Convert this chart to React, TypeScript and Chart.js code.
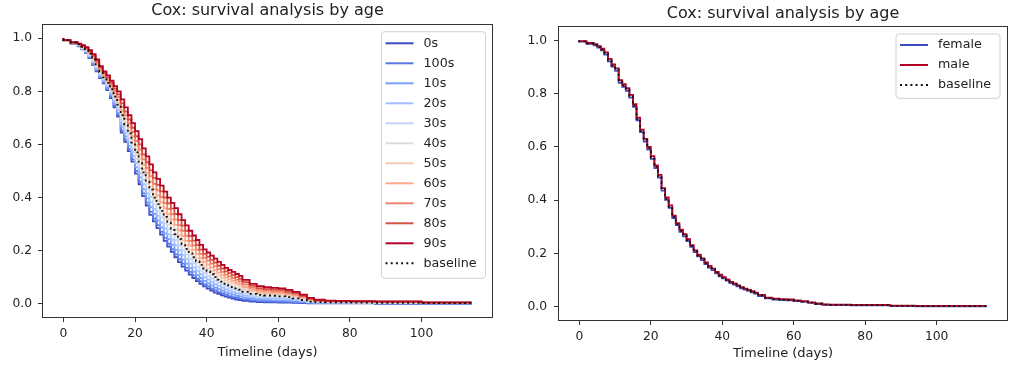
import React, { useEffect, useRef } from 'react';
import { Chart, registerables } from 'chart.js';

Chart.register(...registerables);

// ---------- data ----------
const timeline = [0, 2, 4, 5, 6, 7, 8, 9, 10, 11, 12, 13, 14, 15, 16, 17, 18, 19, 20, 21, 22, 23, 24, 25, 26, 27, 28, 29, 30, 31, 32, 33, 34, 35, 36, 37, 38, 39, 40, 41, 42, 43, 44, 45, 46, 47, 48, 49, 50, 52, 54, 56, 58, 60, 62, 64, 66, 68, 70, 73, 76, 80, 87, 94, 100, 108, 114];

const xTicks = [0, 20, 40, 60, 80, 100];
const yTicks = [0, 0.2, 0.4, 0.6, 0.8, 1.0];

const ageLabels = ['0s', '100s', '10s', '20s', '30s', '40s', '50s', '60s', '70s', '80s', '90s'];
const ageColors = ['#3b4cc0', '#5977e3', '#7b9ff9', '#9ebeff', '#c0d4f5', '#dddcdc', '#f2cbb7', '#f7ac8e', '#ee8468', '#d65244', '#b40426'];

const age0s = [1, .99, .98, .97, .958, .945, .925, .9, .875, .85, .83, .805, .775, .74, .705, .645, .61, .575, .535, .49, .45, .405, .37, .335, .31, .285, .26, .237, .215, .195, .175, .157, .14, .125, .11, .097, .085, .075, .065, .057, .049, .042, .037, .032, .027, .023, .019, .016, .014, .011, .008, .006, .005, .005, .004, .004, .003, .002, .001, .001, .001, .001, .001, 0, 0, 0, 0];
const age100s = [1, .99, .98, .971, .959, .946, .927, .902, .878, .853, .833, .808, .779, .745, .711, .653, .618, .583, .544, .5, .46, .416, .381, .346, .321, .296, .271, .248, .226, .206, .186, .168, .151, .135, .12, .107, .094, .084, .073, .065, .057, .05, .044, .039, .033, .029, .025, .022, .019, .016, .012, .01, .008, .008, .007, .007, .006, .004, .002, .002, .002, .002, .002, .001, .001, 0, 0];
const age10s = [1, .99, .981, .972, .96, .948, .93, .906, .882, .857, .837, .813, .785, .752, .719, .664, .63, .595, .557, .514, .476, .432, .398, .364, .338, .313, .288, .265, .243, .223, .203, .184, .166, .151, .135, .121, .108, .097, .086, .077, .069, .061, .055, .049, .043, .039, .034, .03, .028, .023, .018, .015, .014, .013, .012, .011, .009, .007, .004, .003, .003, .003, .002, .001, .001, .001, .001];
const age20s = [1, .991, .981, .973, .962, .951, .933, .91, .886, .861, .841, .819, .791, .76, .729, .676, .643, .609, .571, .53, .493, .45, .416, .383, .356, .331, .306, .283, .261, .241, .221, .202, .184, .168, .151, .137, .124, .112, .1, .091, .082, .074, .067, .061, .054, .049, .044, .04, .037, .031, .025, .021, .019, .019, .018, .016, .014, .01, .006, .005, .004, .004, .003, .002, .002, .001, .001];
const age30s = [1, .991, .982, .974, .964, .953, .936, .914, .891, .866, .846, .824, .798, .768, .738, .689, .656, .622, .586, .546, .51, .468, .435, .402, .375, .35, .325, .302, .28, .26, .24, .22, .201, .185, .168, .153, .139, .126, .114, .105, .095, .087, .079, .072, .065, .059, .054, .05, .046, .039, .031, .027, .025, .024, .023, .021, .018, .013, .008, .006, .005, .005, .004, .003, .003, .002, .002];
const age40s = [1, .991, .982, .975, .965, .955, .939, .918, .895, .87, .85, .83, .804, .776, .748, .701, .669, .636, .6, .562, .527, .486, .453, .421, .393, .368, .343, .32, .298, .278, .258, .238, .219, .202, .184, .169, .155, .141, .128, .118, .108, .1, .091, .083, .076, .07, .064, .059, .055, .047, .038, .033, .031, .03, .028, .026, .022, .016, .01, .007, .006, .006, .005, .004, .004, .002, .002];
const age50s = [1, .992, .983, .976, .967, .957, .942, .922, .9, .875, .855, .836, .811, .785, .758, .715, .683, .651, .616, .58, .545, .506, .474, .441, .414, .389, .364, .341, .319, .299, .279, .258, .238, .22, .202, .187, .172, .157, .143, .133, .123, .114, .105, .096, .088, .081, .076, .07, .065, .055, .046, .04, .037, .036, .034, .031, .027, .02, .013, .009, .007, .007, .006, .005, .005, .003, .003];
const age60s = [1, .992, .983, .977, .969, .96, .945, .926, .905, .88, .86, .841, .818, .793, .768, .728, .696, .664, .631, .596, .562, .524, .492, .46, .432, .407, .382, .359, .337, .317, .297, .276, .256, .237, .219, .203, .187, .172, .157, .147, .136, .126, .117, .107, .098, .092, .086, .079, .074, .063, .052, .046, .043, .041, .04, .036, .031, .023, .015, .01, .008, .008, .007, .006, .006, .003, .003];
const age70s = [1, .992, .984, .978, .97, .962, .948, .931, .91, .885, .865, .847, .825, .802, .778, .741, .71, .679, .647, .613, .581, .544, .512, .481, .452, .427, .402, .379, .357, .337, .317, .296, .275, .256, .237, .22, .204, .188, .173, .162, .151, .141, .13, .12, .11, .103, .097, .09, .084, .072, .06, .052, .049, .047, .046, .041, .035, .027, .017, .012, .009, .009, .008, .007, .007, .004, .004];
const age80s = [1, .993, .984, .979, .972, .964, .951, .935, .915, .89, .87, .853, .832, .81, .789, .755, .724, .694, .663, .631, .6, .563, .533, .502, .473, .448, .423, .4, .378, .358, .338, .315, .294, .275, .255, .238, .221, .204, .188, .177, .165, .155, .143, .132, .122, .115, .108, .1, .094, .081, .067, .059, .055, .053, .052, .046, .04, .03, .019, .013, .011, .01, .009, .008, .008, .004, .004];
const age90s = [1, .993, .985, .98, .974, .967, .955, .94, .92, .895, .875, .86, .84, .82, .8, .77, .74, .71, .68, .65, .62, .585, .555, .525, .495, .47, .445, .422, .4, .38, .36, .337, .315, .295, .275, .257, .24, .222, .205, .193, .181, .17, .158, .146, .135, .127, .12, .112, .105, .09, .075, .066, .062, .06, .058, .052, .045, .034, .022, .015, .012, .011, .01, .009, .009, .005, .005];
const ageSeries = [age0s, age100s, age10s, age20s, age30s, age40s, age50s, age60s, age70s, age80s, age90s];

const baselineAge = [1, .993, .984, .977, .968, .958, .942, .92, .898, .873, .853, .832, .808, .78, .75, .71, .675, .642, .607, .57, .535, .495, .46, .43, .4, .375, .35, .327, .305, .283, .262, .243, .225, .207, .19, .175, .16, .146, .133, .122, .111, .1, .091, .083, .075, .069, .063, .058, .053, .045, .037, .033, .031, .03, .028, .025, .02, .014, .008, .006, .005, .005, .004, .003, .003, .002, .002];

const sexLabels = ['female', 'male'];
const sexColors = ['#3b4cc0', '#b40426'];
const female = [1, .995, .987, .981, .973, .962, .946, .921, .901, .885, .84, .825, .81, .785, .75, .7, .655, .62, .59, .555, .52, .485, .436, .401, .371, .333, .306, .281, .264, .246, .225, .205, .189, .175, .16, .147, .137, .125, .114, .106, .098, .089, .083, .076, .069, .064, .059, .054, .049, .04, .031, .027, .025, .024, .021, .018, .014, .01, .007, .006, .006, .005, .005, .002, .001, .001, .001];
const male = [1, .997, .99, .986, .978, .969, .955, .93, .91, .895, .85, .835, .82, .795, .76, .71, .665, .63, .6, .565, .53, .495, .445, .41, .38, .342, .314, .289, .272, .254, .231, .211, .195, .181, .166, .153, .143, .131, .12, .111, .102, .093, .087, .08, .073, .068, .063, .058, .053, .044, .034, .03, .028, .027, .024, .021, .016, .012, .009, .008, .008, .007, .007, .004, .003, .003, .003];
const sexSeries = [female, male];
const baselineSex = [1, .996, .988, .983, .975, .965, .95, .925, .905, .89, .845, .83, .815, .79, .755, .705, .66, .625, .595, .56, .525, .49, .44, .405, .375, .337, .31, .285, .268, .25, .228, .208, .192, .178, .163, .15, .14, .128, .117, .108, .1, .091, .085, .078, .071, .066, .061, .056, .051, .042, .032, .028, .026, .025, .022, .019, .015, .011, .008, .007, .007, .006, .006, .003, .002, .002, .002];

const baselineLabel = 'baseline';
const titleText = 'Cox: survival analysis by age';
const xLabelText = 'Timeline (days)';

// ---------- styling ----------
const FONT = '"DejaVu Sans", "Liberation Sans", sans-serif';
const TEXT = '#222222';
const X_MIN = -5.7;
const X_MAX = 119.7;
const Y_MIN = -0.05;
const Y_MAX = 1.05;
const DOT = [2, 3.2];

const frameLegendPlugin = {
  id: 'frameLegend',
  afterDraw(chart: any, _args: any, opts: any) {
    const { ctx, chartArea: a } = chart;
    ctx.save();
    ctx.strokeStyle = '#333333';
    ctx.lineWidth = 1;
    ctx.setLineDash([]);
    const l = Math.round(a.left) - 0.5;
    const t = Math.round(a.top) - 0.5;
    const r = Math.round(a.right) + 0.5;
    const b = Math.round(a.bottom) + 0.5;
    ctx.strokeRect(l, t, r - l, b - t);

    const items = opts.items as any[];
    const n = items.length;
    const bx = a.right - opts.marginRight - opts.width;
    const by = a.top + opts.marginTop;
    const bh = opts.firstOffset + (n - 1) * opts.row + opts.lastPad;
    const bw = opts.width;
    const rad = 3;
    ctx.beginPath();
    ctx.moveTo(bx + rad, by);
    ctx.lineTo(bx + bw - rad, by);
    ctx.arcTo(bx + bw, by, bx + bw, by + rad, rad);
    ctx.lineTo(bx + bw, by + bh - rad);
    ctx.arcTo(bx + bw, by + bh, bx + bw - rad, by + bh, rad);
    ctx.lineTo(bx + rad, by + bh);
    ctx.arcTo(bx, by + bh, bx, by + bh - rad, rad);
    ctx.lineTo(bx, by + rad);
    ctx.arcTo(bx, by, bx + rad, by, rad);
    ctx.closePath();
    ctx.fillStyle = 'rgba(255,255,255,0.8)';
    ctx.fill();
    ctx.strokeStyle = '#d0d0d0';
    ctx.lineWidth = 1;
    ctx.stroke();

    items.forEach((it, i) => {
      const cy = by + opts.firstOffset + i * opts.row;
      ctx.beginPath();
      ctx.setLineDash(it.dash || []);
      ctx.strokeStyle = it.color;
      ctx.lineWidth = 2;
      ctx.lineCap = 'butt';
      ctx.moveTo(bx + 4, cy);
      ctx.lineTo(bx + 32, cy);
      ctx.stroke();
      ctx.setLineDash([]);
      ctx.fillStyle = TEXT;
      ctx.font = `12.7px ${FONT}`;
      ctx.textBaseline = 'middle';
      ctx.textAlign = 'left';
      ctx.fillText(it.label, bx + 42, cy);
    });
    ctx.restore();
  },
};

function toPoints(values: number[]) {
  return timeline.map((t, j) => ({ x: t, y: values[j] }));
}

function makeConfig(p: any, labels: string[], colors: string[], series: number[][], baseline: number[]) {
  const datasets: any[] = series.map((vals, i) => ({
    label: labels[i],
    data: toPoints(vals),
    borderColor: colors[i],
    backgroundColor: colors[i],
    borderWidth: 1.8,
    stepped: 'after',
    pointRadius: 0,
    fill: false,
    order: series.length - i,
  }));
  datasets.push({
    label: baselineLabel,
    data: toPoints(baseline),
    borderColor: '#111111',
    backgroundColor: '#111111',
    borderWidth: 1.8,
    borderDash: DOT,
    stepped: 'after',
    pointRadius: 0,
    fill: false,
    order: 0,
  });
  const legendItems: any[] = labels.map((lab, i) => ({ label: lab, color: colors[i] }));
  legendItems.push({ label: baselineLabel, color: '#111111', dash: DOT });

  return {
    type: 'line',
    data: { datasets },
    plugins: [frameLegendPlugin],
    options: {
      responsive: false,
      animation: false,
      events: [],
      layout: { padding: { left: 0, right: p.padRight, top: 0, bottom: 0 } },
      plugins: {
        legend: { display: false },
        tooltip: { enabled: false },
        title: {
          display: true,
          fullSize: false,
          text: titleText,
          color: TEXT,
          font: { family: FONT, size: 16, weight: 'normal', lineHeight: 1.2 },
          padding: { top: p.titleTop, bottom: p.titleBottom },
        },
        frameLegend: {
          items: legendItems,
          width: 104,
          marginRight: p.legendRight,
          marginTop: p.legendTop,
          firstOffset: p.legendFirst,
          row: 20,
          lastPad: p.legendLast,
        },
      },
      scales: {
        x: {
          type: 'linear',
          min: X_MIN,
          max: X_MAX,
          afterFit: (s: any) => { s.height = p.xAxisHeight; },
          afterBuildTicks: (s: any) => { s.ticks = xTicks.map((v) => ({ value: v })); },
          ticks: {
            color: TEXT,
            font: { family: FONT, size: 12.3 },
            padding: p.xTickPad,
            autoSkip: false,
            maxRotation: 0,
            callback: (v: any) => String(v),
          },
          grid: { drawOnChartArea: false, drawTicks: true, tickLength: 5, color: '#333333' },
          border: { display: false },
          title: {
            display: true,
            text: xLabelText,
            color: TEXT,
            font: { family: FONT, size: 13, lineHeight: 1.2 },
            padding: { top: 0, bottom: p.xTitleBottom },
          },
        },
        y: {
          type: 'linear',
          min: Y_MIN,
          max: Y_MAX,
          afterFit: (s: any) => { s.width = p.yAxisWidth; },
          afterBuildTicks: (s: any) => { s.ticks = yTicks.map((v) => ({ value: v })); },
          ticks: {
            color: TEXT,
            font: { family: FONT, size: 12.3 },
            padding: p.yTickPad,
            autoSkip: false,
            callback: (v: any) => Number(v).toFixed(1),
          },
          grid: { drawOnChartArea: false, drawTicks: true, tickLength: 5, color: '#333333' },
          border: { display: false },
        },
      },
    },
  };
}

function ChartPanel({ config, left }: { config: any; left: number }) {
  const ref = useRef<HTMLCanvasElement>(null);
  useEffect(() => {
    const chart = new Chart(ref.current as HTMLCanvasElement, config);
    return () => chart.destroy();
  }, []);
  return (
    <canvas
      ref={ref}
      width={512}
      height={373}
      style={{ position: 'absolute', left, top: 0, width: 512, height: 373 }}
    />
  );
}

const leftConfig = makeConfig(
  { padRight: 20, titleTop: 1.5, titleBottom: 4.3, xAxisHeight: 56, yAxisWidth: 43, xTitleBottom: 13, xTickPad: 4, yTickPad: 6, legendRight: 6.5, legendTop: 6.7, legendFirst: 11.6, legendLast: 15 },
  ageLabels, ageColors, ageSeries, baselineAge
);
const rightConfig = makeConfig(
  { padRight: 17, titleTop: 3.9, titleBottom: 3.9, xAxisHeight: 53, yAxisWidth: 47, xTitleBottom: 12, xTickPad: 4.5, yTickPad: 7, legendRight: 7, legendTop: 7, legendFirst: 11, legendLast: 13.3 },
  sexLabels, sexColors, sexSeries, baselineSex
);

export default function App() {
  return (
    <div style={{ position: 'fixed', left: 0, top: 0, width: 1024, height: 373, background: '#ffffff', overflow: 'hidden' }}>
      <ChartPanel config={leftConfig} left={0} />
      <ChartPanel config={rightConfig} left={512} />
    </div>
  );
}
